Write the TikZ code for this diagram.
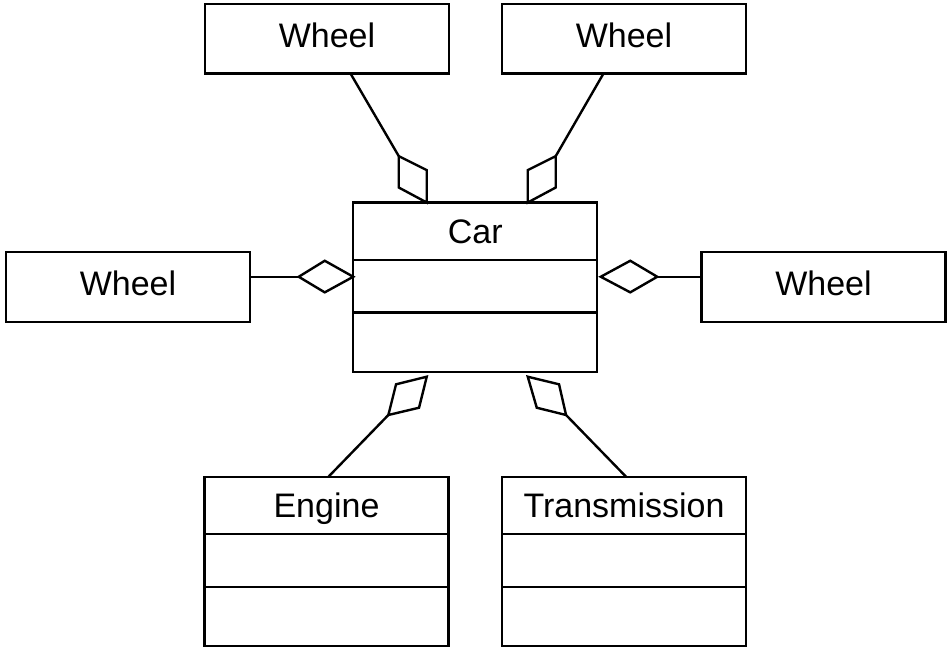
\documentclass[tikz,border=0pt]{standalone}
\usepackage{fontspec}
\setmainfont{Liberation Sans}
\usetikzlibrary{positioning}

\begin{document}
\begin{tikzpicture}[x=1pt,y=-1pt,line width=2.4pt,
    box/.style={draw,rectangle,inner sep=0pt,outer sep=0pt,minimum width=244pt,font=\fontsize{34}{40}\selectfont},
    wheelbox/.style={box,minimum height=69.5pt,text height=24pt,text depth=7pt},
    head/.style={box,minimum height=57.5pt,text height=24pt,text depth=0pt},
    mid/.style={box,minimum height=52.5pt},
    low/.style={box,minimum height=59.5pt},
    agg/.style={draw,fill=white,line join=miter}]
    \useasboundingbox (0,0) rectangle (949,649);
    % wheels
    \foreach \n/\x/\y in {wtl/327/38.75,wtr/624/38.75,wl/128/287,wr/823.5/287}
        \node[wheelbox] (\n) at (\x,\y) {Wheel};
    % classes with compartments
    \foreach \n/\x/\y/\t in {car/475.25/202.5/Car,eng/326.5/476.7/Engine,trn/624/476.7/Transmission} {
        \node[head,anchor=north] (\n) at (\x,\y) {\t};
        \node[mid,below=0pt of \n] (\n2) {};
        \node[low,below=0pt of \n2] (\n3) {};
    }
    % aggregation diamonds
    \coordinate (dtl) at ([xshift=-48.5pt]car.north);
    \draw[agg] (dtl) -- ++(0,-32.4) -- ++(-28,-14) coordinate (dtlb) -- ++(0,31.4) -- cycle;
    \coordinate (dtr) at ([xshift=52.5pt]car.north);
    \draw[agg] (dtr) -- ++(0,-32.4) -- ++(28,-14) coordinate (dtrb) -- ++(0,31.4) -- cycle;
    \coordinate (dl) at ([yshift=9.5pt]car2.west);
    \draw[agg] (dl) -- ++(-28.5,-16) -- ++(-26,16) coordinate (dlb) -- ++(26,15.6) -- cycle;
    \coordinate (dr) at ([xshift=3.5pt,yshift=9.5pt]car2.east);
    \draw[agg] (dr) -- ++(29.5,-16) -- ++(27,16) coordinate (drb) -- ++(-27,15.6) -- cycle;
    \coordinate (dbl) at ([xshift=-48.5pt,yshift=-4.7pt]car3.south);
    \draw[agg] (dbl) -- ++(-30.7,7.6) -- ++(-7.7,30.7) coordinate (dblb) -- ++(30.7,-7.3) -- cycle;
    \coordinate (dbr) at ([xshift=52.5pt,yshift=-4.7pt]car3.south);
    \draw[agg] (dbr) -- ++(31.3,7.6) -- ++(7,30.7) coordinate (dbrb) -- ++(-29.3,-7.3) -- cycle;
    % connectors
    \draw ([xshift=23.5pt]wtl.south) -- (dtlb);
    \draw ([xshift=-20.5pt]wtr.south) -- (dtrb);
    \draw (dlb -| wl.east) -- (dlb);
    \draw (drb) -- (drb -| wr.west);
    \draw (dblb) -- ([xshift=2pt]eng.north);
    \draw (dbrb) -- ([xshift=2pt]trn.north);
\end{tikzpicture}
\end{document}
